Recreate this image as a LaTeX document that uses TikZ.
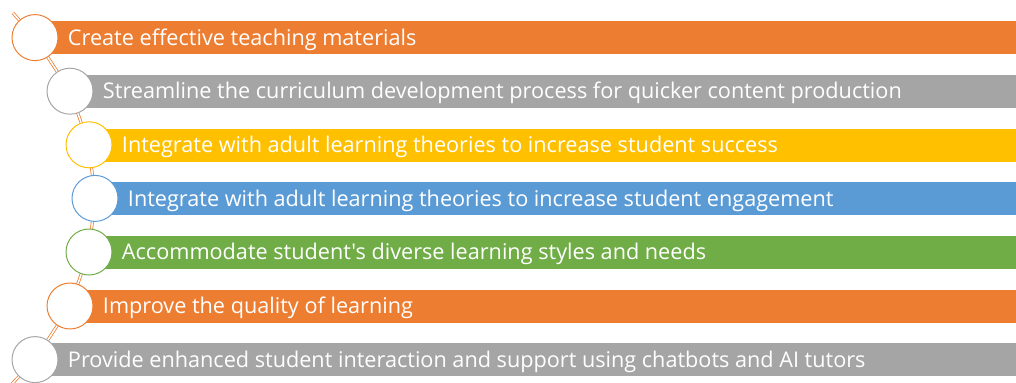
\documentclass[tikz,border=0pt]{standalone}
\usepackage{fontspec}
\usepackage{xcolor}
\usetikzlibrary{positioning}
\newfontfamily\barfont{Open Sans}[Ligatures=TeXOff]
\definecolor{Orange}{HTML}{ED7D31}
\definecolor{Gray}{HTML}{A5A5A5}
\definecolor{Gold}{HTML}{FFC000}
\definecolor{Blue}{HTML}{5B9BD5}
\definecolor{Green}{HTML}{70AD47}

\begin{document}
\begin{tikzpicture}[
    dot/.style={circle, draw=#1, fill=white, line width=0.7pt, minimum size=1.15cm, inner sep=0pt},
    bar/.style={rectangle, fill=#1, draw=white, line width=0.3pt, minimum height=0.85cm, inner sep=0pt, anchor=west},
    txt/.style={text=white, font=\barfont\fontsize{15.4}{18}\selectfont, inner sep=0pt, yshift=-0.05cm},
    spine/.style={draw=Orange, double=white, line width=0.55pt, double distance=1.1pt}
  ]
    \useasboundingbox (0,0) rectangle (25.4,-9.55);

    % centres of the circles, one per row
    \coordinate (p1) at (0.875,-0.94);
    \coordinate (p2) at (1.75,-2.28);
    \coordinate (p3) at (2.225,-3.62);
    \coordinate (p4) at (2.375,-4.96);
    \coordinate (p5) at (2.225,-6.30);
    \coordinate (p6) at (1.75,-7.65);
    \coordinate (p7) at (0.875,-8.99);
    \coordinate (top) at (0.32,-0.32);
    \coordinate (bottom) at (0.2,-9.7);

    \draw[spine] (top) -- (p1) -- (p2) -- (p3) -- (p4) -- (p5) -- (p6) -- (p7) -- (bottom);

    % coloured bars running to the right edge
    \node[bar=Orange, minimum width=25.4cm-0.875cm] (b1) at (p1) {};
    \node[bar=Gray, minimum width=25.4cm-1.75cm] (b2) at (p2) {};
    \node[bar=Gold, minimum width=25.4cm-2.225cm] (b3) at (p3) {};
    \node[bar=Blue, minimum width=25.4cm-2.375cm] (b4) at (p4) {};
    \node[bar=Green, minimum width=25.4cm-2.225cm] (b5) at (p5) {};
    \node[bar=Orange, minimum width=25.4cm-1.75cm] (b6) at (p6) {};
    \node[bar=Gray, minimum width=25.4cm-0.875cm] (b7) at (p7) {};

    \node[dot=Orange] (c1) at (p1) {};
    \node[dot=Gray] (c2) at (p2) {};
    \node[dot=Gold] (c3) at (p3) {};
    \node[dot=Blue] (c4) at (p4) {};
    \node[dot=Green] (c5) at (p5) {};
    \node[dot=Orange] (c6) at (p6) {};
    \node[dot=Gray] (c7) at (p7) {};

    \node[txt, right=0.23cm of c1] (t1) {Create effective teaching materials};
    \node[txt, right=0.23cm of c2] (t2) {Streamline the curriculum development process for quicker content production};
    \node[txt, right=0.23cm of c3] (t3) {Integrate with adult learning theories to increase student success};
    \node[txt, right=0.23cm of c4] (t4) {Integrate with adult learning theories to increase student engagement};
    \node[txt, right=0.23cm of c5] (t5) {Accommodate student's diverse learning styles and needs};
    \node[txt, right=0.23cm of c6] (t6) {Improve the quality of learning};
    \node[txt, right=0.23cm of c7] (t7) {Provide enhanced student interaction and support using chatbots and AI tutors};
  \end{tikzpicture}
\end{document}
